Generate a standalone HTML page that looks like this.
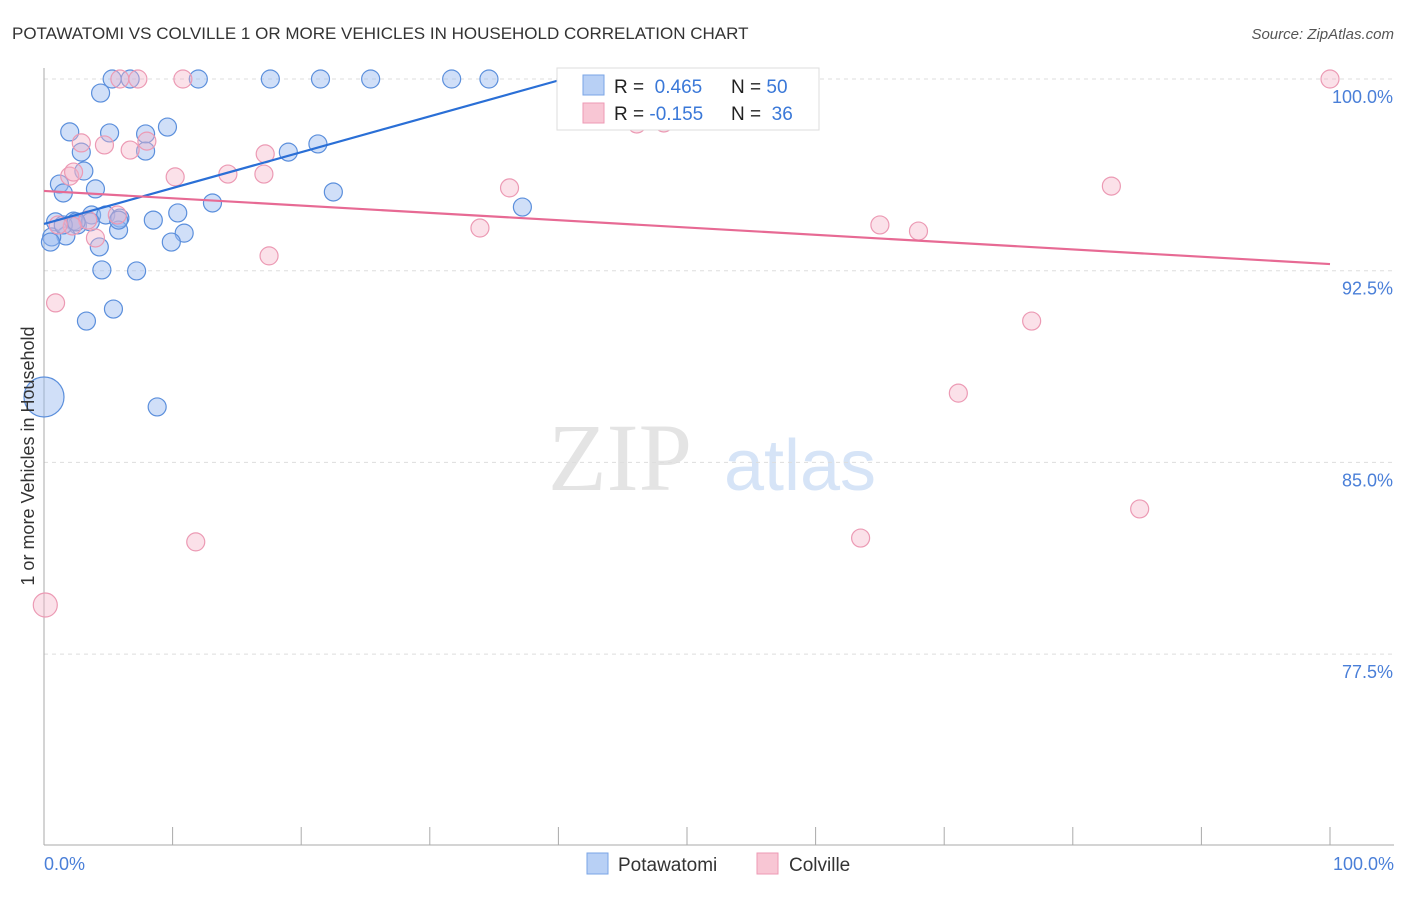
<!DOCTYPE html>
<html><head><meta charset="utf-8"><style>
body{margin:0;background:#fff;font-family:"Liberation Sans",sans-serif;}
</style></head><body>
<svg width="1406" height="892" xmlns="http://www.w3.org/2000/svg">
<text x="12" y="39" font-size="17" fill="#333">POTAWATOMI VS COLVILLE 1 OR MORE VEHICLES IN HOUSEHOLD CORRELATION CHART</text>
<text x="1394" y="39" font-size="15" fill="#555" font-style="italic" text-anchor="end">Source: ZipAtlas.com</text>
<text x="620" y="490" font-size="96" fill="#e4e4e4" font-family="Liberation Serif,serif" text-anchor="middle">ZIP</text>
<text x="800" y="490" font-size="72" fill="#d6e4f7" text-anchor="middle">atlas</text>
<g id="grid"></g>
<line x1="44" y1="68" x2="44" y2="845" stroke="#aaa"/>
<line x1="44" y1="845" x2="1394" y2="845" stroke="#aaa"/>
<g id="ticks"></g>
<g id="pts"></g>
<g id="lines"></g>
<text transform="translate(34,456) rotate(-90)" font-size="18" fill="#333" text-anchor="middle">1 or more Vehicles in Household</text>
<text x="44" y="870" font-size="18" fill="#4a7fd8">0.0%</text>
<text x="1394" y="870" font-size="18" fill="#4a7fd8" text-anchor="end">100.0%</text>
<g>
<rect x="557" y="68" width="262" height="62" fill="#fff" stroke="#ddd"/>
<rect x="583" y="75" width="21" height="20" fill="#b8d0f5" stroke="#7aa5e6"/>
<rect x="583" y="103" width="21" height="20" fill="#f8c6d4" stroke="#ee9ab4"/>
<text x="614" y="93" font-size="19" fill="#222">R = <tspan fill="#3a78d8">&#160;0.465</tspan><tspan x="731">N = </tspan><tspan fill="#3a78d8">50</tspan></text>
<text x="614" y="120" font-size="19" fill="#222">R = <tspan fill="#3a78d8">-0.155</tspan><tspan x="731">N = </tspan><tspan fill="#3a78d8">&#160;36</tspan></text>
</g>
<g>
<rect x="587" y="853" width="21" height="21" fill="#b8d0f5" stroke="#7aa5e6"/>
<text x="618" y="871" font-size="19" fill="#333">Potawatomi</text>
<rect x="757" y="853" width="21" height="21" fill="#f8c6d4" stroke="#ee9ab4"/>
<text x="789" y="871" font-size="19" fill="#333">Colville</text>
</g>
</svg>
<script>
const yTicks=[100,92.5,85,77.5];
const yTickLabels=["100.0%","92.5%","85.0%","77.5%"];
const blueX=[5.3,6.7,12,17.6,21.5,25.4,31.7,34.6,43.2,4.4,2,5.1,7.9,9.6,2.9,7.9,3.1,1.2,1.5,4.0,13.1,19,21.3,22.5,37.2,0.9,2.3,2.6,3.7,4.8,5.9,5.8,8.5,10.4,10.9,9.9,1.7,0.6,0.5,4.3,4.5,7.2,3.3,5.4,8.8,0,3.6,1.5,2.5,5.8];
const blueY=[100,100,100,100,100,100,100,100,100,99.45,97.93,97.89,97.85,98.12,97.14,97.18,96.40,95.89,95.54,95.70,95.15,97.14,97.46,95.58,94.99,94.41,94.44,94.29,94.68,94.68,94.56,94.09,94.48,94.76,93.97,93.62,93.86,93.82,93.62,93.43,92.53,92.49,90.53,91.0,87.17,87.56,94.41,94.29,94.41,94.48];
const pinkX=[5.9,7.3,10.8,40.7,53.7,100,46.1,48.2,2.9,4.7,6.7,8,10.2,14.3,17.2,2,2.3,36.2,83,33.9,65,68,17.5,0.9,4.0,5.7,11.8,63.5,76.8,71.1,85.2,0.1,3.4,2.2,1.1,17.1];
const pinkY=[100,100,100,100,100,100,98.24,98.28,97.50,97.42,97.22,97.57,96.17,96.28,97.07,96.2,96.36,95.74,95.81,94.17,94.29,94.05,93.08,91.24,93.78,94.68,81.89,82.04,90.53,87.71,83.18,79.42,94.48,94.25,94.29,96.28];
const blueTrend=[[0,94.33],[40.4,100]];
const pinkTrend=[[0,95.62],[100,92.76]];
const X=v=>44+v*12.86, Y=v=>79+(100-v)*25.56;
const NS="http://www.w3.org/2000/svg";
function mk(t,a,p){const e=document.createElementNS(NS,t);for(const k in a)e.setAttribute(k,a[k]);document.getElementById(p).appendChild(e);return e;}
yTicks.forEach((t,i)=>{
 const l=mk('line',{x1:44,x2:1394,y1:Y(t),y2:Y(t),stroke:'#ddd','stroke-dasharray':'4,4'},'grid');
 
 
 const tx=mk('text',{x:1393,y:Y(t)+24,'font-size':18,fill:'#4a7fd8','text-anchor':'end'},'grid');
 tx.textContent=yTickLabels[i];
 
 
});
for(let i=0;i<=10;i++){
 const t=mk('line',{x1:X(i*10),x2:X(i*10),y1:827,y2:845,stroke:'#aaa'},'ticks');
 
 
}
blueX.forEach((x,i)=>{
 const c=mk('circle',{cx:X(x),cy:Y(blueY[i]),r:x===0?20:9,fill:'rgba(150,185,240,0.45)',stroke:'#5b8fdc','stroke-width':1.2},'pts');
 
 
});
pinkX.forEach((x,i)=>{
 const c=mk('circle',{cx:X(x),cy:Y(pinkY[i]),r:x<0.5?12:9,fill:'rgba(246,180,200,0.4)',stroke:'#ec9ab4','stroke-width':1.2},'pts');
 
 
});
const bl=mk('line',{x1:X(blueTrend[0][0]),y1:Y(blueTrend[0][1]),x2:X(blueTrend[1][0]),y2:Y(blueTrend[1][1]),stroke:'#2a6fd6','stroke-width':2.2},'lines');


const pl=mk('line',{x1:X(pinkTrend[0][0]),y1:Y(pinkTrend[0][1]),x2:X(pinkTrend[1][0]),y2:Y(pinkTrend[1][1]),stroke:'#e76a94','stroke-width':2.2},'lines');


</script>
</body></html>
